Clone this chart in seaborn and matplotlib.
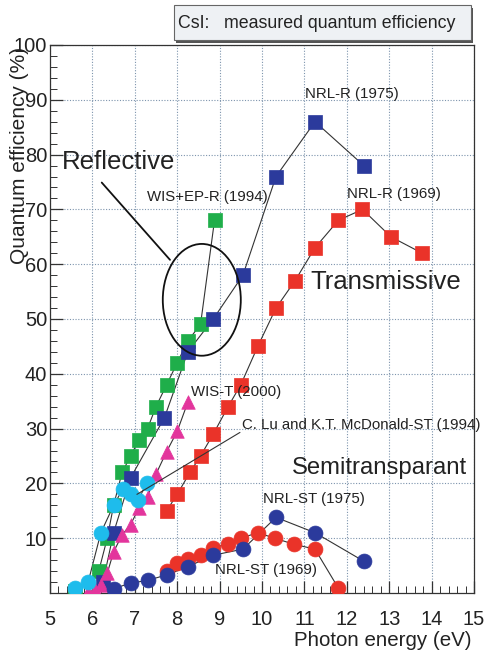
import matplotlib
matplotlib.use("Agg")
import matplotlib.pyplot as plt
import matplotlib.patches as mpatches
from matplotlib.ticker import MultipleLocator
import seaborn as sns

# ---- data: photon energy (eV) vs quantum efficiency (%) ----
nrl_r75_x = [6.25, 6.5, 6.9, 7.7, 8.25, 8.85, 9.55, 10.33, 11.25, 12.4]
nrl_r75_y = [2, 11, 21, 32, 44, 50, 58, 76, 86, 78]

wis_ep_r_x = [5.6, 6.15, 6.35, 6.5, 6.7, 6.9, 7.1, 7.3, 7.5, 7.75, 8.0, 8.25, 8.55, 8.88]
wis_ep_r_y = [0.3, 4, 10, 16, 22, 25, 28, 30, 34, 38, 42, 46, 49, 68]

nrl_r69_x = [7.75, 8.0, 8.3, 8.55, 8.85, 9.2, 9.5, 9.9, 10.33, 10.78, 11.25, 11.8, 12.37, 13.04, 13.78]
nrl_r69_y = [15, 18, 22, 25, 29, 34, 38, 45, 52, 57, 63, 68, 70, 65, 62]

wis_t_x = [5.9, 6.05, 6.2, 6.35, 6.5, 6.7, 6.9, 7.1, 7.3, 7.5, 7.75, 8.0, 8.25]
wis_t_y = [0.2, 0.5, 1.5, 3.6, 7.5, 10.6, 12.5, 15.5, 17.6, 21.7, 25.8, 29.5, 34.8]

lu_st_x = [5.6, 5.9, 6.2, 6.5, 6.72, 6.92, 7.08, 7.28]
lu_st_y = [1.0, 2.0, 11, 16, 19, 18, 17, 20]

nrl_st75_x = [6.5, 6.9, 7.3, 7.75, 8.25, 8.85, 9.55, 10.33, 11.25, 12.4]
nrl_st75_y = [0.8, 1.8, 2.3, 3.3, 4.8, 6.9, 8.0, 13.8, 11.0, 5.8]

nrl_st69_x = [7.75, 8.0, 8.25, 8.55, 8.85, 9.2, 9.5, 9.9, 10.3, 10.75, 11.25, 11.8]
nrl_st69_y = [4.0, 5.5, 6.2, 7.0, 8.2, 9.0, 10.0, 11.0, 10.0, 8.9, 8.0, 0.9]

x_ticks = [5, 6, 7, 8, 9, 10, 11, 12, 13, 14, 15]
y_ticks = [10, 20, 30, 40, 50, 60, 70, 80, 90, 100]

GREEN = "#1fae4a"
BLUE = "#2b3a9c"
RED = "#ea3329"
MAGENTA = "#e3359c"
CYAN = "#1ebcec"
INK = "#222222"

sns.set_theme(style="white")
plt.rcParams["font.family"] = ["Liberation Sans", "DejaVu Sans"]

fig = plt.figure(figsize=(4.88, 6.54), dpi=100)
ax = fig.add_axes([50 / 488, 1 - 593 / 654, 424 / 488, 548 / 654])

series = [
    (wis_ep_r_x, wis_ep_r_y, GREEN, "s", 90),
    (nrl_r75_x, nrl_r75_y, BLUE, "s", 90),
    (nrl_r69_x, nrl_r69_y, RED, "s", 90),
    (wis_t_x, wis_t_y, MAGENTA, "^", 95),
    (lu_st_x, lu_st_y, CYAN, "o", 115),
    (nrl_st69_x, nrl_st69_y, RED, "o", 115),
    (nrl_st75_x, nrl_st75_y, BLUE, "o", 115),
]

# connecting lines under all markers
for xs, ys, c, m, s in series:
    sns.lineplot(x=xs, y=ys, ax=ax, color="#333333", lw=0.8, sort=False,
                 estimator=None, zorder=2)
for i, (xs, ys, c, m, s) in enumerate(series):
    sns.scatterplot(x=xs, y=ys, ax=ax, color=c, marker=m, s=s,
                    edgecolor=c, linewidth=0.5, zorder=3 + i * 0.1)

ax.set_xlim(5, 15)
ax.set_ylim(0, 100)
ax.set_xticks(x_ticks)
ax.set_yticks(y_ticks)
ax.xaxis.set_minor_locator(MultipleLocator(0.2))
ax.yaxis.set_minor_locator(MultipleLocator(2))

ax.grid(True, which="major", color="#7d94ad", lw=0.8, linestyle=(0, (1, 1.5)))
ax.tick_params(which="major", direction="in", length=9, width=0.9, color="#333333",
               labelsize=14.5, labelcolor=INK, left=True, bottom=True)
ax.tick_params(which="minor", direction="in", length=5, width=0.7, color="#333333",
               left=True, bottom=True)
ax.tick_params(axis="x", which="major", pad=12)
ax.tick_params(axis="y", which="major", pad=2)
for sp in ax.spines.values():
    sp.set_color("#333333")
    sp.set_linewidth(0.9)

ax.set_xlabel("Photon energy (eV)", loc="right", fontsize=14.8, color=INK)
ax.xaxis.set_label_coords(0.995, -0.069)
ax.set_ylabel("Quantum efficiency (%)", loc="top", fontsize=15, color=INK)
ax.yaxis.set_label_coords(-0.05, 0.997)

# series labels
small = dict(fontsize=10.8, color=INK, va="center", ha="left", zorder=6)
ax.text(11.01, 91, "NRL-R (1975)", **small)
ax.text(12.0, 72.9, "NRL-R (1969)", **small)
ax.text(7.28, 72.3, "WIS+EP-R (1994)", **small)
ax.text(8.32, 36.7, "WIS-T (2000)", **small)
ax.text(9.52, 30.7, "C. Lu and K.T. McDonald-ST (1994)", **small)
ax.text(10.02, 17.1, "NRL-ST (1975)", **small)
ax.text(8.88, 4.2, "NRL-ST (1969)", **small)

big = dict(color=INK, va="center", ha="left", zorder=6)
ax.text(5.28, 78.7, "Reflective", fontsize=18.5, **big)
ax.text(11.13, 56.8, "Transmissive", fontsize=18.5, **big)
ax.text(10.7, 22.8, "Semitransparant", fontsize=17.2, **big)

# group marker and leader lines
ax.add_patch(mpatches.Ellipse((8.58, 53.5), 1.84, 20.4, fill=False,
                              ec="#111111", lw=1.3, zorder=5))
ax.plot([6.22, 7.83], [74.9, 60.8], color="#111111", lw=1.3, zorder=5)
ax.plot([9.48, 7.05], [29.3, 18.0], color="#333333", lw=0.8, zorder=5)

# header box with drop shadow
fig.patches.append(mpatches.Rectangle((176 / 488, 1 - 43 / 654), 297 / 488, 35 / 654,
                                      transform=fig.transFigure, fc="#555555",
                                      ec="none", zorder=1))
fig.patches.append(mpatches.Rectangle((174 / 488, 1 - 40 / 654), 297 / 488, 35 / 654,
                                      transform=fig.transFigure, fc="#eef1f4",
                                      ec="#666666", lw=0.8, zorder=2))
fig.text(178 / 488, 1 - 23 / 654, "CsI:   measured quantum efficiency",
         fontsize=12.8, color=INK, va="center", ha="left", zorder=3)

fig.savefig("out.png", dpi=100, facecolor="white")
